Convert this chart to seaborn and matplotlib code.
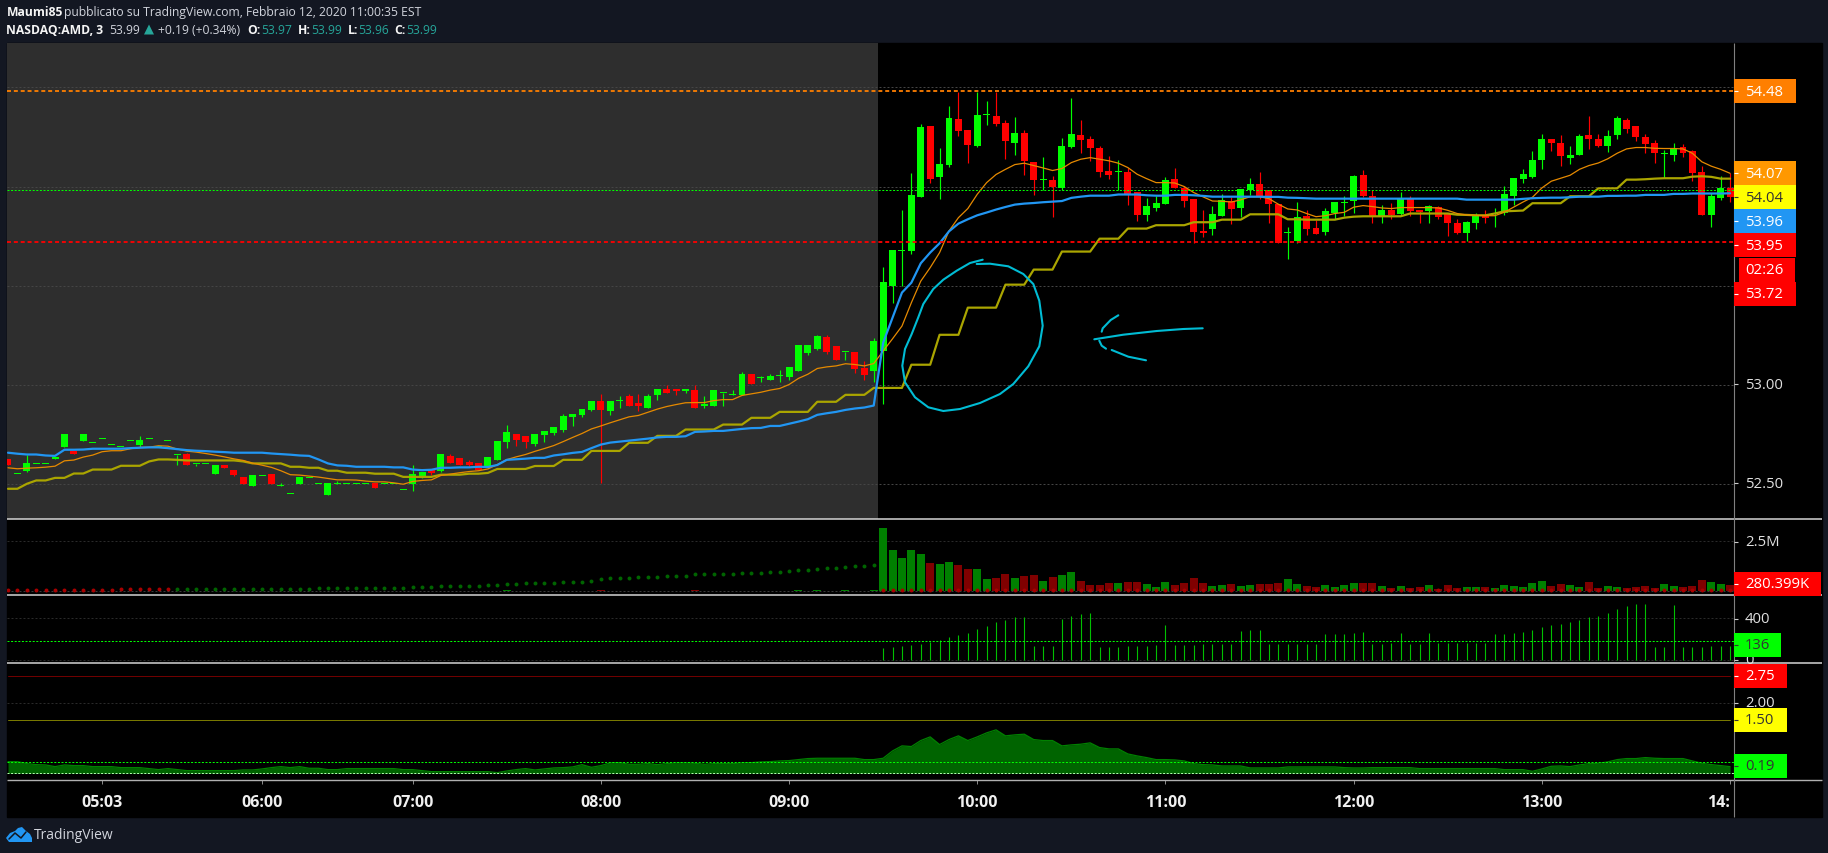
import numpy as np
import pandas as pd
import matplotlib
matplotlib.use('Agg')
import matplotlib.pyplot as plt
from matplotlib.patches import Rectangle, Polygon
import seaborn as sns

opens = [
    52.626, 52.551, 52.567, 52.601, 52.601, 52.623, 52.684, 52.668, 52.714, 52.707,
    52.727, 52.697, 52.687, 52.717, 52.694, 52.727, 52.687, 52.717, 52.647, 52.648,
    52.601, 52.601, 52.549, 52.593, 52.572, 52.532, 52.487, 52.540, 52.552, 52.490,
    52.450, 52.498, 52.530, 52.500, 52.446, 52.500, 52.500, 52.500, 52.500, 52.502,
    52.500, 52.500, 52.470, 52.497, 52.532, 52.572, 52.567, 52.638, 52.628, 52.608,
    52.603, 52.582, 52.622, 52.713, 52.749, 52.739, 52.703, 52.744, 52.754, 52.774,
    52.835, 52.845, 52.875, 52.920, 52.865, 52.920, 52.941, 52.910, 52.885, 52.946,
    52.981, 52.981, 52.966, 52.971, 52.895, 52.895, 52.959, 52.947, 52.946, 53.052,
    53.032, 53.026, 53.042, 53.037, 53.067, 53.158, 53.178, 53.239, 53.193, 53.163,
    53.163, 53.082, 53.067, 53.168, 53.498, 53.677, 53.673, 53.946, 54.305, 54.047,
    54.108, 54.340, 54.284, 54.204, 54.362, 54.355, 54.320, 54.219, 54.269, 54.123,
    54.032, 54.032, 53.991, 54.199, 54.259, 54.239, 54.194, 54.077, 54.074, 54.072,
    53.971, 53.855, 53.890, 53.911, 54.037, 53.991, 53.936, 53.774, 53.784, 53.850,
    53.926, 53.890, 53.981, 54.012, 53.981, 53.911, 53.764, 53.724, 53.850, 53.789,
    53.769, 53.865, 53.916, 53.926, 54.057, 53.951, 53.850, 53.880, 53.860, 53.936,
    53.880, 53.875, 53.896, 53.860, 53.815, 53.764, 53.815, 53.855, 53.860, 53.865,
    53.951, 54.037, 54.047, 54.133, 54.239, 54.219, 54.143, 54.158, 54.259, 54.239,
    54.204, 54.259, 54.335, 54.305, 54.249, 54.219, 54.162, 54.158, 54.199, 54.178,
    54.072, 53.855, 53.941, 53.991,
]
highs = [
    52.626, 52.551, 52.643, 52.601, 52.601, 52.636, 52.749, 52.668, 52.749, 52.707,
    52.727, 52.697, 52.687, 52.717, 52.739, 52.727, 52.687, 52.717, 52.647, 52.657,
    52.601, 52.601, 52.593, 52.593, 52.572, 52.532, 52.542, 52.540, 52.552, 52.502,
    52.450, 52.532, 52.530, 52.500, 52.502, 52.512, 52.500, 52.500, 52.500, 52.502,
    52.500, 52.500, 52.470, 52.593, 52.562, 52.572, 52.653, 52.648, 52.628, 52.618,
    52.603, 52.633, 52.718, 52.799, 52.749, 52.739, 52.749, 52.769, 52.789, 52.850,
    52.850, 52.880, 52.920, 52.951, 52.920, 52.941, 52.951, 52.951, 52.951, 52.981,
    53.001, 52.981, 52.981, 53.001, 52.941, 52.971, 52.959, 52.971, 53.062, 53.052,
    53.042, 53.052, 53.072, 53.092, 53.203, 53.203, 53.249, 53.249, 53.193, 53.163,
    53.163, 53.122, 53.234, 53.592, 53.678, 53.880, 54.067, 54.315, 54.305, 54.194,
    54.406, 54.478, 54.284, 54.478, 54.431, 54.478, 54.335, 54.350, 54.284, 54.123,
    54.148, 54.052, 54.244, 54.446, 54.335, 54.254, 54.204, 54.153, 54.133, 54.093,
    53.971, 53.941, 53.951, 54.047, 54.093, 54.002, 53.936, 53.880, 53.901, 53.961,
    53.946, 53.986, 54.042, 54.072, 53.981, 53.911, 53.795, 53.921, 53.880, 53.830,
    53.890, 53.921, 53.951, 54.057, 54.082, 53.981, 53.906, 53.916, 53.971, 53.951,
    53.880, 53.906, 53.901, 53.860, 53.835, 53.825, 53.865, 53.880, 53.890, 54.002,
    54.042, 54.087, 54.178, 54.264, 54.239, 54.259, 54.204, 54.264, 54.355, 54.264,
    54.284, 54.355, 54.345, 54.305, 54.264, 54.234, 54.183, 54.219, 54.214, 54.183,
    54.103, 53.970, 54.052, 54.070,
]
lows = [
    52.594, 52.551, 52.562, 52.601, 52.601, 52.623, 52.684, 52.653, 52.714, 52.707,
    52.727, 52.697, 52.687, 52.717, 52.684, 52.727, 52.687, 52.717, 52.593, 52.594,
    52.589, 52.601, 52.549, 52.578, 52.537, 52.498, 52.487, 52.540, 52.498, 52.487,
    52.450, 52.498, 52.530, 52.500, 52.446, 52.500, 52.500, 52.500, 52.500, 52.477,
    52.500, 52.500, 52.470, 52.466, 52.527, 52.547, 52.562, 52.603, 52.593, 52.583,
    52.572, 52.582, 52.622, 52.683, 52.693, 52.683, 52.693, 52.713, 52.744, 52.764,
    52.794, 52.835, 52.865, 52.506, 52.845, 52.885, 52.895, 52.865, 52.885, 52.925,
    52.956, 52.946, 52.956, 52.885, 52.885, 52.895, 52.895, 52.947, 52.946, 53.006,
    53.016, 53.026, 53.016, 53.026, 53.067, 53.148, 53.173, 53.153, 53.127, 53.127,
    53.057, 53.026, 53.016, 52.905, 53.414, 53.498, 53.658, 53.946, 54.017, 53.936,
    54.098, 54.254, 54.118, 54.199, 54.310, 54.305, 54.138, 54.158, 54.057, 53.956,
    53.981, 53.845, 53.981, 54.194, 54.168, 54.128, 54.047, 54.037, 53.981, 53.906,
    53.825, 53.825, 53.875, 53.911, 53.991, 53.896, 53.714, 53.744, 53.754, 53.850,
    53.810, 53.845, 53.956, 53.936, 53.815, 53.717, 53.633, 53.714, 53.754, 53.759,
    53.754, 53.835, 53.850, 53.865, 53.946, 53.815, 53.815, 53.835, 53.850, 53.850,
    53.815, 53.815, 53.835, 53.749, 53.759, 53.724, 53.784, 53.815, 53.795, 53.855,
    53.906, 54.017, 54.042, 54.087, 54.178, 54.103, 54.113, 54.158, 54.188, 54.199,
    54.173, 54.239, 54.269, 54.229, 54.168, 54.118, 54.042, 54.128, 54.148, 54.027,
    53.855, 53.795, 53.931, 53.921,
]
closes = [
    52.594, 52.551, 52.603, 52.601, 52.601, 52.636, 52.749, 52.653, 52.749, 52.707,
    52.727, 52.697, 52.687, 52.717, 52.719, 52.727, 52.687, 52.717, 52.647, 52.594,
    52.601, 52.601, 52.593, 52.578, 52.547, 52.498, 52.542, 52.540, 52.498, 52.490,
    52.450, 52.532, 52.530, 52.500, 52.502, 52.500, 52.500, 52.500, 52.500, 52.477,
    52.500, 52.500, 52.470, 52.552, 52.562, 52.557, 52.653, 52.603, 52.593, 52.593,
    52.572, 52.633, 52.718, 52.759, 52.723, 52.713, 52.749, 52.769, 52.789, 52.840,
    52.850, 52.880, 52.920, 52.875, 52.920, 52.920, 52.895, 52.895, 52.941, 52.981,
    52.956, 52.966, 52.981, 52.885, 52.905, 52.971, 52.959, 52.947, 53.052, 53.006,
    53.032, 53.042, 53.042, 53.092, 53.203, 53.203, 53.244, 53.163, 53.127, 53.163,
    53.077, 53.047, 53.223, 53.517, 53.678, 53.677, 53.956, 54.300, 54.037, 54.113,
    54.345, 54.279, 54.209, 54.360, 54.362, 54.315, 54.229, 54.269, 54.128, 54.032,
    54.032, 53.997, 54.204, 54.264, 54.234, 54.194, 54.072, 54.057, 54.074, 53.961,
    53.855, 53.901, 53.916, 54.032, 53.991, 53.926, 53.769, 53.764, 53.860, 53.931,
    53.885, 53.986, 54.012, 53.951, 53.911, 53.717, 53.764, 53.845, 53.784, 53.759,
    53.875, 53.921, 53.916, 54.052, 53.951, 53.850, 53.880, 53.855, 53.936, 53.875,
    53.870, 53.901, 53.845, 53.815, 53.764, 53.820, 53.855, 53.840, 53.860, 53.961,
    54.042, 54.062, 54.133, 54.239, 54.219, 54.153, 54.158, 54.254, 54.239, 54.204,
    54.254, 54.345, 54.289, 54.249, 54.214, 54.168, 54.162, 54.194, 54.168, 54.067,
    53.855, 53.951, 53.991, 53.946,
]

vwap_blue = [
    52.657, 52.652, 52.648, 52.648, 52.643, 52.641, 52.672, 52.672, 52.673, 52.677,
    52.677, 52.677, 52.677, 52.680, 52.682, 52.684, 52.684, 52.680, 52.675, 52.670,
    52.667, 52.665, 52.662, 52.660, 52.657, 52.657, 52.657, 52.657, 52.653, 52.650,
    52.647, 52.643, 52.641, 52.623, 52.603, 52.593, 52.591, 52.586, 52.586, 52.586,
    52.586, 52.583, 52.583, 52.572, 52.569, 52.571, 52.581, 52.581, 52.583, 52.583,
    52.586, 52.585, 52.595, 52.621, 52.624, 52.627, 52.631, 52.631, 52.643, 52.649,
    52.656, 52.661, 52.680, 52.698, 52.708, 52.713, 52.718, 52.723, 52.728, 52.734,
    52.737, 52.737, 52.740, 52.762, 52.764, 52.767, 52.767, 52.772, 52.777, 52.781,
    52.782, 52.792, 52.792, 52.803, 52.814, 52.826, 52.848, 52.856, 52.863, 52.873,
    52.880, 52.885, 52.895, 53.212, 53.338, 53.465, 53.515, 53.613, 53.667, 53.714,
    53.774, 53.813, 53.835, 53.855, 53.869, 53.884, 53.897, 53.909, 53.914, 53.917,
    53.921, 53.924, 53.927, 53.943, 53.949, 53.954, 53.954, 53.954, 53.960, 53.960,
    53.960, 53.956, 53.954, 53.954, 53.958, 53.958, 53.956, 53.953, 53.949, 53.949,
    53.949, 53.949, 53.949, 53.949, 53.948, 53.948, 53.944, 53.943, 53.941, 53.939,
    53.939, 53.939, 53.939, 53.939, 53.939, 53.939, 53.939, 53.939, 53.939, 53.939,
    53.939, 53.939, 53.939, 53.939, 53.939, 53.934, 53.934, 53.934, 53.934, 53.934,
    53.934, 53.938, 53.941, 53.943, 53.944, 53.944, 53.946, 53.949, 53.949, 53.949,
    53.953, 53.953, 53.954, 53.954, 53.958, 53.958, 53.958, 53.963, 53.963, 53.965,
    53.965, 53.965, 53.965, 53.966,
]
ma_orange = [
    52.581, 52.576, 52.579, 52.581, 52.584, 52.589, 52.616, 52.620, 52.635, 52.645,
    52.662, 52.667, 52.667, 52.677, 52.684, 52.685, 52.692, 52.690, 52.675, 52.665,
    52.660, 52.653, 52.645, 52.636, 52.626, 52.618, 52.604, 52.594, 52.583, 52.566,
    52.546, 52.544, 52.539, 52.534, 52.527, 52.520, 52.520, 52.519, 52.514, 52.510,
    52.510, 52.505, 52.498, 52.512, 52.517, 52.520, 52.542, 52.549, 52.556, 52.562,
    52.566, 52.575, 52.597, 52.622, 52.636, 52.648, 52.664, 52.678, 52.693, 52.713,
    52.734, 52.754, 52.777, 52.792, 52.808, 52.823, 52.838, 52.845, 52.861, 52.877,
    52.890, 52.900, 52.909, 52.910, 52.910, 52.920, 52.925, 52.925, 52.946, 52.954,
    52.962, 52.973, 52.981, 53.001, 53.032, 53.053, 53.082, 53.090, 53.095, 53.106,
    53.102, 53.095, 53.107, 53.170, 53.232, 53.296, 53.414, 53.523, 53.591, 53.667,
    53.776, 53.843, 53.889, 53.961, 54.020, 54.061, 54.087, 54.111, 54.118, 54.106,
    54.094, 54.081, 54.091, 54.121, 54.138, 54.146, 54.138, 54.130, 54.118, 54.096,
    54.062, 54.040, 54.020, 54.020, 54.018, 54.000, 53.970, 53.948, 53.927, 53.926,
    53.922, 53.933, 53.949, 53.949, 53.939, 53.911, 53.887, 53.882, 53.864, 53.848,
    53.853, 53.864, 53.870, 53.896, 53.904, 53.899, 53.892, 53.889, 53.894, 53.894,
    53.894, 53.894, 53.892, 53.880, 53.864, 53.857, 53.855, 53.853, 53.853, 53.870,
    53.896, 53.922, 53.946, 53.993, 54.027, 54.042, 54.057, 54.087, 54.106, 54.119,
    54.140, 54.168, 54.190, 54.197, 54.197, 54.193, 54.192, 54.192, 54.190, 54.168,
    54.125, 54.103, 54.087, 54.067,
]
step_gold = [
    52.475, 52.475, 52.500, 52.517, 52.517, 52.530, 52.530, 52.552, 52.552, 52.572,
    52.572, 52.572, 52.591, 52.591, 52.591, 52.613, 52.623, 52.623, 52.621, 52.618,
    52.618, 52.618, 52.618, 52.618, 52.618, 52.613, 52.603, 52.603, 52.603, 52.603,
    52.586, 52.586, 52.581, 52.581, 52.566, 52.566, 52.556, 52.556, 52.556, 52.551,
    52.551, 52.551, 52.535, 52.535, 52.535, 52.535, 52.546, 52.546, 52.546, 52.551,
    52.551, 52.555, 52.575, 52.575, 52.575, 52.575, 52.590, 52.590, 52.590, 52.621,
    52.621, 52.621, 52.666, 52.666, 52.666, 52.666, 52.707, 52.707, 52.707, 52.742,
    52.742, 52.742, 52.774, 52.774, 52.774, 52.774, 52.799, 52.799, 52.799, 52.833,
    52.833, 52.833, 52.863, 52.863, 52.863, 52.863, 52.914, 52.914, 52.914, 52.949,
    52.949, 52.949, 52.984, 52.984, 52.984, 52.984, 53.101, 53.101, 53.101, 53.252,
    53.252, 53.252, 53.389, 53.389, 53.389, 53.389, 53.505, 53.505, 53.505, 53.581,
    53.581, 53.581, 53.672, 53.672, 53.672, 53.672, 53.737, 53.737, 53.737, 53.788,
    53.788, 53.788, 53.805, 53.805, 53.805, 53.805, 53.820, 53.820, 53.820, 53.833,
    53.833, 53.833, 53.860, 53.860, 53.860, 53.860, 53.835, 53.835, 53.833, 53.833,
    53.833, 53.833, 53.843, 53.848, 53.850, 53.850, 53.850, 53.850, 53.850, 53.864,
    53.864, 53.864, 53.864, 53.864, 53.858, 53.857, 53.855, 53.855, 53.864, 53.875,
    53.877, 53.879, 53.916, 53.916, 53.916, 53.916, 53.951, 53.951, 53.951, 53.991,
    53.991, 53.991, 54.035, 54.035, 54.037, 54.040, 54.042, 54.042, 54.042, 54.050,
    54.052, 54.049, 54.040, 54.040,
]

# volume in millions, pre-market bars are almost nothing
volume = [
    0, 0, 0, 0, 0, 0, 0, 0, 0, 0,
    0, 0, 0, 0, 0, 0, 0, 0, 0, 0,
    0, 0, 0, 0, 0, 0, 0, 0, 0, 0,
    0, 0, 0, 0, 0, 0, 0, 0, 0, 0,
    0, 0, 0, 0, 0, 0, 0, 0, 0, 0,
    0, 0, 0, 0.03, 0, 0, 0, 0, 0, 0,
    0, 0, 0, 0.03, 0, 0, 0, 0, 0, 0,
    0, 0, 0, 0.03, 0, 0, 0, 0, 0, 0,
    0, 0, 0, 0, 0.03, 0, 0.03, 0, 0, 0.03,
    0, 0, 0.05, 3.17, 2.06, 1.66, 2.06, 1.86, 1.41, 1.36,
    1.46, 1.31, 1.11, 1.11, 0.60, 0.65, 0.85, 0.65, 0.75, 0.80,
    0.50, 0.70, 0.80, 0.95, 0.50, 0.30, 0.30, 0.40, 0.40, 0.45,
    0.45, 0.35, 0.20, 0.45, 0.30, 0.40, 0.65, 0.40, 0.25, 0.30,
    0.35, 0.25, 0.30, 0.35, 0.35, 0.40, 0.60, 0.35, 0.25, 0.20,
    0.30, 0.20, 0.30, 0.40, 0.40, 0.40, 0.25, 0.15, 0.25, 0.15,
    0.20, 0.30, 0.10, 0.30, 0.15, 0.20, 0.20, 0.20, 0.15, 0.30,
    0.25, 0.20, 0.40, 0.50, 0.25, 0.35, 0.30, 0.20, 0.45, 0.15,
    0.25, 0.20, 0.15, 0.20, 0.25, 0.15, 0.35, 0.25, 0.20, 0.25,
    0.55, 0.45, 0.35, 0.28,
]
volume_dots = [
    0.03, 0.03, 0.03, 0.03, 0.03, 0.03, 0.03, 0.03, 0.03, 0.03,
    0.03, 0.03, 0.08, 0.08, 0.08, 0.08, 0.08, 0.08, 0.08, 0.08,
    0.08, 0.08, 0.08, 0.08, 0.08, 0.08, 0.08, 0.08, 0.08, 0.08,
    0.08, 0.08, 0.08, 0.13, 0.13, 0.13, 0.13, 0.13, 0.13, 0.13,
    0.13, 0.13, 0.13, 0.18, 0.18, 0.18, 0.23, 0.23, 0.23, 0.23,
    0.23, 0.28, 0.28, 0.34, 0.34, 0.39, 0.39, 0.39, 0.39, 0.44,
    0.44, 0.44, 0.49, 0.60, 0.64, 0.64, 0.64, 0.69, 0.69, 0.69,
    0.74, 0.74, 0.74, 0.84, 0.84, 0.84, 0.84, 0.84, 0.89, 0.89,
    0.89, 0.94, 0.94, 0.99, 1.04, 1.04, 1.09, 1.14, 1.14, 1.19,
    1.24, 1.24, 1.29, 0.03, 0.03, 0.03, 0.03, 0.03, 0.03, 0.03,
    0.03, 0.03, 0.03, 0.03, 0.03, 0.03, 0.03, 0.03, 0.03, 0.03,
    0.03, 0.03, 0.03, 0.03, 0.03, 0.03, 0.03, 0.03, 0.03, 0.03,
    0.03, 0.03, 0.03, 0.03, 0.03, 0.03, 0.03, 0.03, 0.03, 0.03,
    0.03, 0.03, 0.03, 0.03, 0.03, 0.03, 0.03, 0.03, 0.03, 0.03,
    0.03, 0.03, 0.03, 0.03, 0.03, 0.03, 0.03, 0.03, 0.03, 0.03,
    0.03, 0.03, 0.03, 0.03, 0.03, 0.03, 0.03, 0.03, 0.03, 0.03,
    0.03, 0.03, 0.03, 0.03, 0.03, 0.03, 0.03, 0.03, 0.03, 0.03,
    0.03, 0.03, 0.03, 0.03, 0.03, 0.03, 0.03, 0.03, 0.03, 0.03,
    0.03, 0.03, 0.03, 0.03,
]
# spike pane only has values from the open, first entry is bar 93
spikes_first_bar = 93
spikes = [
    115, 125, 134, 144, 154, 173, 192, 221, 240, 259,
    298, 326, 365, 384, 413, 413, 134, 134, 134, 394,
    422, 442, 451, 125, 125, 125, 134, 134, 134, 144,
    336, 144, 144, 144, 154, 154, 154, 154, 278, 288,
    288, 154, 154, 154, 154, 154, 154, 250, 250, 250,
    259, 269, 154, 154, 163, 259, 154, 154, 259, 163,
    163, 163, 163, 163, 163, 250, 250, 259, 269, 288,
    317, 336, 346, 365, 384, 413, 422, 451, 490, 518,
    538, 538, 125, 125, 528, 125, 125, 125, 134, 134,
    134,
]
area = [
    0.331, 0.331, 0.275, 0.246, 0.237, 0.189, 0.237, 0.218, 0.218, 0.189,
    0.189, 0.189, 0.161, 0.161, 0.161, 0.133, 0.104, 0.133, 0.104, 0.076,
    0.076, 0.076, 0.076, 0.076, 0.076, 0.095, 0.095, 0.123, 0.161, 0.189,
    0.161, 0.189, 0.142, 0.142, 0.104, 0.104, 0.133, 0.133, 0.133, 0.133,
    0.133, 0.133, 0.104, 0.104, 0.076, 0.047, 0.047, 0.047, 0.047, 0.047,
    0.047, 0.047, 0.019, 0.066, 0.104, 0.133, 0.095, 0.123, 0.152, 0.161,
    0.180, 0.246, 0.170, 0.218, 0.294, 0.303, 0.256, 0.256, 0.275, 0.246,
    0.275, 0.294, 0.294, 0.284, 0.256, 0.275, 0.275, 0.275, 0.294, 0.303,
    0.322, 0.331, 0.350, 0.360, 0.388, 0.417, 0.426, 0.426, 0.426, 0.426,
    0.426, 0.388, 0.388, 0.426, 0.634, 0.777, 0.758, 0.928, 1.032, 0.814,
    0.956, 1.061, 0.928, 1.032, 1.146, 1.231, 1.061, 1.089, 1.108, 0.956,
    0.928, 0.928, 0.777, 0.805, 0.824, 0.862, 0.729, 0.691, 0.691, 0.549,
    0.492, 0.445, 0.388, 0.388, 0.379, 0.350, 0.275, 0.246, 0.237, 0.208,
    0.208, 0.208, 0.152, 0.152, 0.152, 0.152, 0.180, 0.180, 0.180, 0.180,
    0.180, 0.180, 0.161, 0.152, 0.152, 0.161, 0.161, 0.161, 0.161, 0.161,
    0.133, 0.133, 0.133, 0.133, 0.133, 0.133, 0.133, 0.133, 0.133, 0.104,
    0.104, 0.104, 0.057, 0.123, 0.199, 0.208, 0.189, 0.237, 0.275, 0.284,
    0.322, 0.388, 0.417, 0.417, 0.445, 0.426, 0.417, 0.417, 0.417, 0.350,
    0.284, 0.246, 0.218, 0.189,
]

time_ticks = [10, 27, 43, 63, 83, 103, 123, 143, 163, 183]
time_labels = ['05:03', '06:00', '07:00', '08:00', '09:00', '10:00', '11:00', '12:00', '13:00', '14:']
premarket_end = 92.45

# price scale labels: text, centre y, right edge of box, box colour, text colour
scale_labels = [
    ('54.48', 92, 1796, '#ff7f00', 'white'),
    ('54.07', 174, 1796, '#ff9800', 'white'),
    ('54.04', 198, 1796, '#ffff00', '#333333'),
    ('53.96', 222, 1796, '#2196f3', 'white'),
    ('53.95', 246, 1796, '#ff0000', 'white'),
    ('53.72', 295, 1796, '#ff0000', 'white'),
    ('280.399K', 585, 1821, '#ff0000', 'white'),
    ('136', 646, 1781, '#00ff00', '#333333'),
    ('2.75', 677, 1787, '#ff0000', 'white'),
    ('1.50', 721, 1787, '#ffff00', '#333333'),
    ('0.19', 767, 1787, '#00ff00', '#333333'),
]
plain_labels = [('53.00', 385.3), ('52.50', 484.3), ('2.5M', 543), ('400', 619.5), ('0', 661), ('2.00', 703.5)]

circle_x = [982.7, 970, 956.7, 943.3, 933.3, 923.3, 918.3, 911.7, 905, 902.3, 905, 915, 928.3, 943.3,
            960, 980, 1000, 1013.3, 1028.3, 1039.3, 1042.7, 1039.3, 1033.3, 1023.3, 1008.3, 990, 976.7]
circle_y = [260.7, 264, 271.7, 280.7, 290, 305, 318.3, 335, 350, 366.7, 383.3, 398.3, 408.3, 412,
            410, 404, 395, 385, 367.3, 347.3, 326.7, 301.7, 285, 275, 267.3, 264.7, 265]
arrow_parts = [
    ([1094.3, 1123.3, 1156.7, 1183.3, 1202.7], [340.3, 335.7, 332, 330, 329.3]),
    ([1118.3, 1110.7, 1102.7, 1101.7], [316.3, 321, 329.3, 332.7]),
    ([1099.3, 1101.7, 1106], [341.7, 346.7, 349.7]),
    ([1111.7, 1128.3, 1146], [351, 357.7, 361.3]),
]

W, H = 1828, 854
PANEL_L, PANEL_R, AXIS_X = 7, 1822, 1734
panes = [(43.5, 519.5), (519.5, 596), (596, 664), (664, 781)]

sns.set_theme(style='dark', rc={'axes.grid': False})
plt.rcParams['font.family'] = ['Open Sans', 'DejaVu Sans']

fig = plt.figure(figsize=(W / 100, H / 100), dpi=100, facecolor='#131722')
fig.add_artist(Rectangle((PANEL_L / W, 1 - 818 / H), (PANEL_R - PANEL_L) / W, (818 - 43.5) / H,
                         transform=fig.transFigure, color='black', zorder=-1))

axes = []
for top, bottom in panes:
    a = fig.add_axes([PANEL_L / W, 1 - bottom / H, (AXIS_X - PANEL_L) / W, (bottom - top) / H], facecolor='black')
    for s in a.spines.values():
        s.set_visible(False)
    axes.append(a)
ax_price, ax_vol, ax_spk, ax_rsi = axes

bars = np.arange(len(closes))
o, h, l, c = map(np.array, (opens, highs, lows, closes))
up = c >= o
GRID = (0, (2, 2))

# main pane
ax_price.axvspan(-1, premarket_end, color='#2e2e2e', zorder=0, lw=0)
for p in [54.5, 54.0, 53.5, 53.0, 52.5]:
    ax_price.axhline(p, color='#454545', lw=0.72, ls=GRID, zorder=1)
body = np.maximum(np.abs(c - o), 0.005)
ax_price.vlines(bars[up], l[up], h[up], color='#00ff00', lw=0.85, zorder=2)
ax_price.vlines(bars[~up], l[~up], h[~up], color='#ff0000', lw=0.85, zorder=2)
ax_price.bar(bars[up], body[up], bottom=np.minimum(o, c)[up], width=0.74, color='#00ff00', lw=0, zorder=3)
ax_price.bar(bars[~up], body[~up], bottom=np.minimum(o, c)[~up], width=0.74, color='#ff0000', lw=0, zorder=3)

lines = pd.DataFrame({'bar': bars, 'blue': vwap_blue, 'orange': ma_orange, 'gold': step_gold})
sns.lineplot(data=lines, x='bar', y='gold', ax=ax_price, color='#aaa500', lw=1.6, estimator=None, zorder=4)
sns.lineplot(data=lines, x='bar', y='orange', ax=ax_price, color='#e68a00', lw=0.9, estimator=None, zorder=5)
sns.lineplot(data=lines, x='bar', y='blue', ax=ax_price, color='#2196f3', lw=1.6, estimator=None, zorder=6)

ax_price.axhline(54.48, color='#ff7f00', lw=1.3, ls=(0, (2.2, 1.6)), zorder=7)
ax_price.axhline(53.72, color='#ff0000', lw=1.3, ls=(0, (2.2, 1.6)), zorder=7)
ax_price.axhline(53.985, color='#00ff00', lw=0.72, ls=(0, (2, 1.6)), zorder=7)
ax_price.set_ylim(52.325, 54.727)

# volume pane
vol = pd.DataFrame({'bar': bars, 'volume': volume, 'side': np.where(up, 'up', 'down')})
sns.barplot(data=vol, x='bar', y='volume', hue='side', palette={'up': '#008000', 'down': '#800000'},
            native_scale=True, dodge=False, width=0.85, saturation=1, linewidth=0, legend=False,
            errorbar=None, ax=ax_vol, zorder=2)
dots = pd.DataFrame({'bar': bars, 'dot': volume_dots})
is_red = (dots.bar < 18) | (dots.bar > 92)
sns.scatterplot(data=dots[is_red], x='bar', y='dot', color='#a80000', s=8, linewidth=0, ax=ax_vol, zorder=3)
sns.scatterplot(data=dots[~is_red], x='bar', y='dot', color='#006400', s=8, linewidth=0, ax=ax_vol, zorder=3)
ax_vol.axhline(2.5, color='#2a2a2a', lw=0.72, ls=GRID, zorder=1)
ax_vol.axhline(0, color='#3a3a3a', lw=0.72, ls=GRID, zorder=1)
ax_vol.set_ylim(-0.2, 3.64)

# spike pane
ax_spk.vlines(np.arange(len(spikes)) + spikes_first_bar, 0, spikes, color='#00c000', lw=0.8, zorder=2)
ax_spk.axhline(400, color='#2a2a2a', lw=0.72, ls=GRID, zorder=1)
ax_spk.axhline(0, color='#2a2a2a', lw=0.72, ls=GRID, zorder=1)
ax_spk.axhline(176, color='#00ff00', lw=0.72, ls=(0, (2, 1.6)), zorder=3)
ax_spk.set_ylim(-31.6, 623.5)

# area pane
ax_rsi.axhline(2.0, color='#2a2a2a', lw=0.72, ls=GRID, zorder=1)
ax_rsi.plot([bars[0], bars[-1]], [2.75, 2.75], color='#700000', lw=0.72, zorder=2)
ax_rsi.plot([bars[0], bars[-1]], [1.5, 1.5], color='#787800', lw=0.72, zorder=2)
ax_rsi.fill_between(bars, 0, area, color='#006400', lw=0, zorder=2)
sns.lineplot(x=bars, y=area, ax=ax_rsi, color='#008000', lw=0.9, estimator=None, zorder=3)
ax_rsi.axhline(0.31, color='#00ff00', lw=0.72, ls=(0, (2, 1.6)), zorder=4)
ax_rsi.axhline(0, color='#b0ffb0', lw=0.72, ls=(0, (2, 1.6)), zorder=4)
ax_rsi.set_ylim(-0.19, 3.125)

for a in axes:
    a.set_xlim(-0.106, 183.42)
    a.set_xlabel('')
    a.set_ylabel('')
    a.set_yticks([])
    a.tick_params(bottom=False, left=False, labelbottom=False)

ax_rsi.set_xticks(time_ticks)
ax_rsi.set_xticklabels(time_labels, fontweight='bold', fontsize=11.5, color='#f0f0f0')
ax_rsi.tick_params(bottom=True, labelbottom=True, length=3, width=0.72, color='#888888', pad=7)
ax_rsi.get_xticklabels()[-1].set_ha('right')

# overlay in pixels for header, scale labels and the hand drawn notes
ov = fig.add_axes([0, 0, 1, 1], zorder=10)
ov.set_xlim(0, W)
ov.set_ylim(H, 0)
ov.axis('off')
ov.patch.set_alpha(0)

ov.plot(circle_x, circle_y, color='#00bcd4', lw=1.5, zorder=3)
for px_x, px_y in arrow_parts:
    ov.plot(px_x, px_y, color='#00bcd4', lw=1.5, zorder=3)

ov.hlines([519.5, 596, 664], PANEL_L, PANEL_R, color='#d4d4d4', lw=1.1, zorder=4)
ov.hlines(781, PANEL_L, PANEL_R, color='#b0b0b0', lw=1.0, zorder=4)
ov.vlines(AXIS_X, 43.5, 818, color='#808080', lw=0.8, zorder=4)

for text, y in plain_labels:
    ov.text(1745, y, text, color='#e0e0e0', fontsize=10.7, va='center', zorder=5)
    ov.hlines(y, AXIS_X, AXIS_X + 4, color='#cccccc', lw=0.8, zorder=5)

for text, y, right, bg, fg in scale_labels:
    ov.add_patch(Rectangle((AXIS_X, y - 12), right - AXIS_X, 24, color=bg, lw=0, zorder=6))
    ov.text(1745, y, text, color=fg, fontsize=10.7, va='center', zorder=7)
    ov.hlines(y, AXIS_X, AXIS_X + 4, color='white' if fg == 'white' else '#333333', lw=0.8, zorder=7)

ov.add_patch(Rectangle((1739, 259), 56, 24, color='#ff0000', lw=0, zorder=6))
ov.text(1745, 271, '02:26', color='white', fontsize=10.7, va='center', zorder=7)

# header
WHITE = '#f5f5f5'
GREY = '#d1d4dc'
TEAL = '#26a69a'
HEAD = 8.75
ov.text(6.5, 12.7, 'Maumi85', color=WHITE, fontsize=HEAD, fontweight='bold', va='center')
ov.text(64.5, 12.7, 'pubblicato su TradingView.com, Febbraio 12, 2020 11:00:35 EST', color=GREY, fontsize=HEAD, va='center')
ov.text(6.5, 30, 'NASDAQ:AMD, 3', color=WHITE, fontsize=HEAD, fontweight='bold', va='center')
ov.text(109.5, 30, '53.99', color=GREY, fontsize=HEAD, va='center')
ov.add_patch(Polygon([(144, 35.5), (154, 35.5), (149, 25.5)], color=TEAL, lw=0))
ov.text(158, 30, '+0.19 (+0.34%)', color=GREY, fontsize=HEAD, va='center')
for key, kx, val, vx in [('O:', 247.6, '53.97', 261), ('H:', 298, '53.99', 311),
                         ('L:', 347.5, '53.96', 358.6), ('C:', 394.6, '53.99', 406.4)]:
    ov.text(kx, 30, key, color=WHITE, fontsize=HEAD, fontweight='bold', va='center')
    ov.text(vx, 30, val, color=TEAL, fontsize=HEAD, va='center')

# logo
ov.add_patch(Polygon([(6, 839), (10, 834), (15, 832), (18, 829), (22, 828), (26, 832), (30, 835), (32, 839),
                      (32, 843), (9, 843)], color='#2196f3', lw=0))
ov.plot([9, 15, 21, 26], [840, 834, 839, 833], color='#131722', lw=1.1)
ov.text(34, 836, 'TradingView', color='#d1d4dc', fontsize=10, va='center')

fig.savefig('out.png', dpi=100, facecolor=fig.get_facecolor())
